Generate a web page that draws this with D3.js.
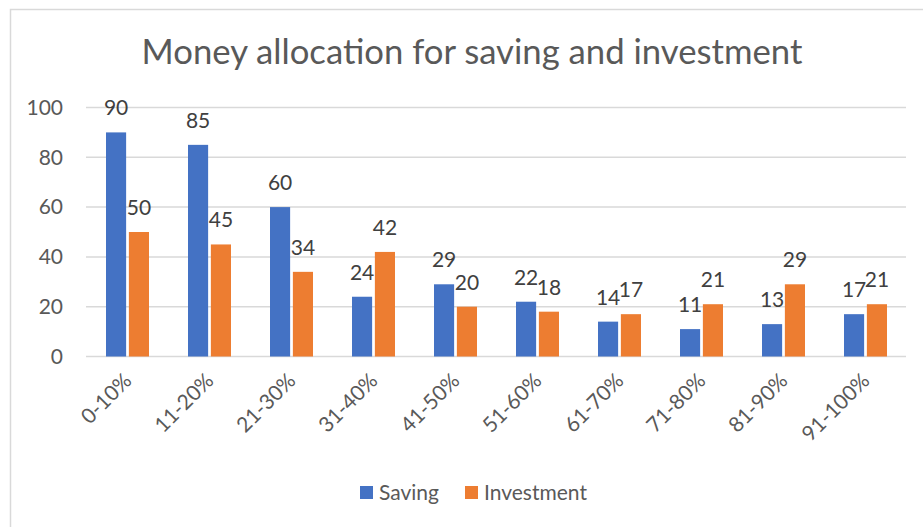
<html>
<head>
<script src="https://d3js.org/d3.v7.min.js"></script>
<style>
  body { margin: 0; background: #fff; }
  text { font-family: Lato, "Open Sans", sans-serif; }
</style>
</head>
<body>
<div id="chart"></div>
<script>
// data
const categories = ["0-10%", "11-20%", "21-30%", "31-40%", "41-50%", "51-60%", "61-70%", "71-80%", "81-90%", "91-100%"]
const saving = [90, 85, 60, 24, 29, 22, 14, 11, 13, 17]
const investment = [50, 45, 34, 42, 20, 18, 17, 21, 29, 21]
const seriesNames = ["Saving", "Investment"]
const colors = ["#4472C4", "#ED7D31"]
const yTicks = [0, 20, 40, 60, 80, 100]
const title = "Money allocation for saving and investment"

const width = 923
const height = 527

const svg = d3.select("#chart").append("svg")
    .attr("width", width)
    .attr("height", height)

// chart frame (runs past the window on right and bottom)
svg.append("rect")
    .attr("x", 10.5).attr("y", 9.5)
    .attr("width", 930).attr("height", 540)
    .attr("fill", "#fff")
    .attr("stroke", "#d9d9d9")
    .attr("stroke-width", 1.5)

svg.append("text")
    .attr("x", 472).attr("y", 64)
    .attr("text-anchor", "middle")
    .attr("font-size", 34.7)
    .attr("fill", "#595959")
    .text(title)

const x = d3.scaleBand().domain(categories).range([86, 906])
const xs = d3.scaleBand().domain(seriesNames).range([-21, 22]).paddingInner(0.12)
const y = d3.scaleLinear().domain([0, 100]).range([356.5, 107.5])

// gridlines
svg.append("g")
    .selectAll("line")
    .data(yTicks)
    .join("line")
    .attr("x1", 86).attr("x2", 906)
    .attr("y1", d => y(d)).attr("y2", d => y(d))
    .attr("stroke", "#d9d9d9")
    .attr("stroke-width", 1.5)

// y labels
svg.append("g")
    .selectAll("text")
    .data(yTicks)
    .join("text")
    .attr("x", 63)
    .attr("y", d => y(d))
    .attr("dy", "0.35em")
    .attr("text-anchor", "end")
    .attr("font-size", 21)
    .attr("fill", "#595959")
    .text(d => d)

const rows = categories.map((c, i) => ({ cat: c, vals: [saving[i], investment[i]] }))

const groups = svg.append("g")
    .selectAll("g")
    .data(rows)
    .join("g")
    .attr("transform", d => `translate(${x(d.cat) + x.bandwidth() / 2},0)`)

groups.selectAll("rect")
    .data(d => d.vals.map((v, k) => ({ name: seriesNames[k], v: v, k: k })))
    .join("rect")
    .attr("x", d => xs(d.name))
    .attr("width", xs.bandwidth())
    .attr("y", d => y(d.v))
    .attr("height", d => y(0) - y(d.v))
    .attr("fill", d => colors[d.k])

groups.selectAll("text")
    .data(d => d.vals.map((v, k) => ({ name: seriesNames[k], v: v, k: k })))
    .join("text")
    .attr("x", d => xs(d.name) + xs.bandwidth() / 2)
    .attr("y", d => y(d.v) - 17)
    .attr("text-anchor", "middle")
    .attr("font-size", 21)
    .attr("fill", "#404040")
    .text(d => d.v)

// category labels, rotated
svg.append("g")
    .selectAll("text")
    .data(categories)
    .join("text")
    .attr("transform", d => `translate(${x(d) + x.bandwidth() / 2 + 6},${382}) rotate(-45)`)
    .attr("text-anchor", "end")
    .attr("font-size", 21)
    .attr("fill", "#595959")
    .text(d => d)

// legend
const legend = svg.append("g")
const legendX = [360, 465]
seriesNames.forEach((name, k) => {
    legend.append("rect")
        .attr("x", legendX[k]).attr("y", 486)
        .attr("width", 13).attr("height", 13)
        .attr("fill", colors[k])
    legend.append("text")
        .attr("x", legendX[k] + 19).attr("y", 493)
        .attr("dy", "0.35em")
        .attr("font-size", 21)
        .attr("fill", "#595959")
        .text(name)
})
</script>
</body>
</html>
